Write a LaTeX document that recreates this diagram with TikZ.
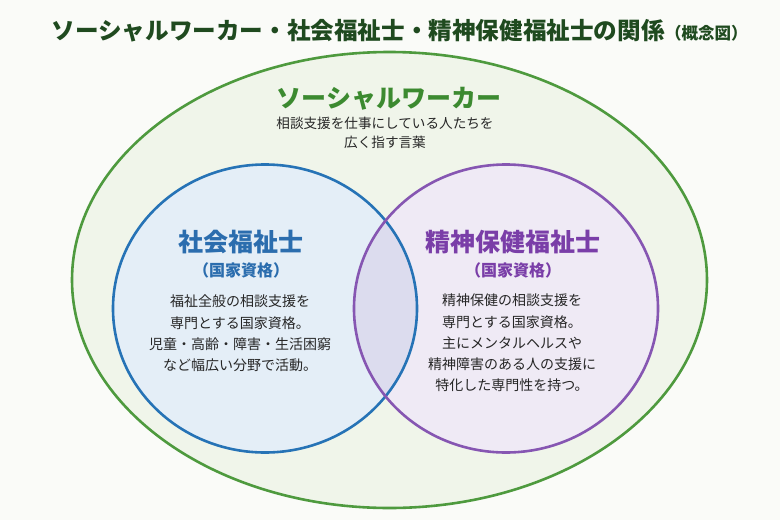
\documentclass[tikz,border=0pt]{standalone}
\usepackage{fontspec}
\newfontfamily\jp{Noto Sans CJK JP}
\definecolor{bgc}{HTML}{FAFBF8}
\definecolor{outerfill}{HTML}{F0F5EA}
\definecolor{outerline}{HTML}{4E9A3E}
\definecolor{leftfill}{HTML}{E4EEF7}
\definecolor{leftline}{HTML}{2673B6}
\definecolor{rightfill}{HTML}{EFEAF5}
\definecolor{rightline}{HTML}{8656B2}
\definecolor{midfill}{HTML}{DCDCEE}
\definecolor{titlegreen}{HTML}{1F4A1F}
\definecolor{swgreen}{HTML}{3C8A30}
\definecolor{blueT}{HTML}{2B6DAE}
\definecolor{purpleT}{HTML}{7A3EA8}
\definecolor{bodyc}{HTML}{262626}
\tikzset{
  bodytext/.style={align=center, text=bodyc, font=\jp\fontsize{14}{21.3}\selectfont, inner sep=0pt},
  headtext/.style={font=\jp\bfseries\fontsize{25}{28}\selectfont, inner sep=0pt},
  subtext/.style={font=\jp\bfseries\fontsize{16}{18}\selectfont, inner sep=0pt},
}
\begin{document}
\begin{tikzpicture}[x=1pt,y=-1pt]
\fill[bgc] (0,0) rectangle (780,520);
\useasboundingbox (0,0) rectangle (780,520);
% outer ellipse
\draw[outerline, fill=outerfill, line width=2.6pt] (389.5,280) ellipse [x radius=317.5, y radius=228];
% circles fills
\fill[leftfill] (265,308.5) ellipse [x radius=152, y radius=144];
\fill[rightfill] (506,308.5) ellipse [x radius=152, y radius=144];
\begin{scope}
  \clip (265,308.5) ellipse [x radius=152, y radius=144];
  \fill[midfill] (506,308.5) ellipse [x radius=152, y radius=144];
\end{scope}
\draw[leftline, line width=2.6pt] (265,308.5) ellipse [x radius=152, y radius=144];
\draw[rightline, line width=2.6pt] (506,308.5) ellipse [x radius=152, y radius=144];
% title
\node[inner sep=0pt, anchor=base east, text=titlegreen, font=\jp\bfseries\fontsize{23.6}{26}\selectfont] (title) at (665,39) {ソーシャルワーカー・社会福祉士・精神保健福祉士の関係};
\node[inner sep=0pt, anchor=base west, text=titlegreen, font=\jp\bfseries\fontsize{16.5}{20}\selectfont] (titlesub) at (title.base east) {（概念図）};
% social worker
\node[headtext, text=swgreen] (sw) at (389,99) {ソーシャルワーカー};
\node[align=center, text=bodyc, font=\jp\fontsize{13.6}{19.5}\selectfont, inner sep=0pt] (swdesc) at (385,133) {相談支援を仕事にしている人たちを\\広く指す言葉};
% left
\node[headtext, text=blueT] (csw) at (241,242) {社会福祉士};
\node[subtext, text=blueT] (cswq) at (241,270) {（国家資格）};
\node[bodytext] (cswdesc) at (240,333.5) {福祉全般の相談支援を\\専門とする国家資格。\\児童・高齢・障害・生活困窮\\など幅広い分野で活動。};
% right
\node[headtext, text=purpleT] (psw) at (513,242) {精神保健福祉士};
\node[subtext, text=purpleT] (pswq) at (513,270) {（国家資格）};
\node[bodytext] (pswdesc) at (512,343) {精神保健の相談支援を\\専門とする国家資格。\\主にメンタルヘルスや\\精神障害のある人の支援に\\特化した専門性を持つ。};
\end{tikzpicture}
\end{document}
